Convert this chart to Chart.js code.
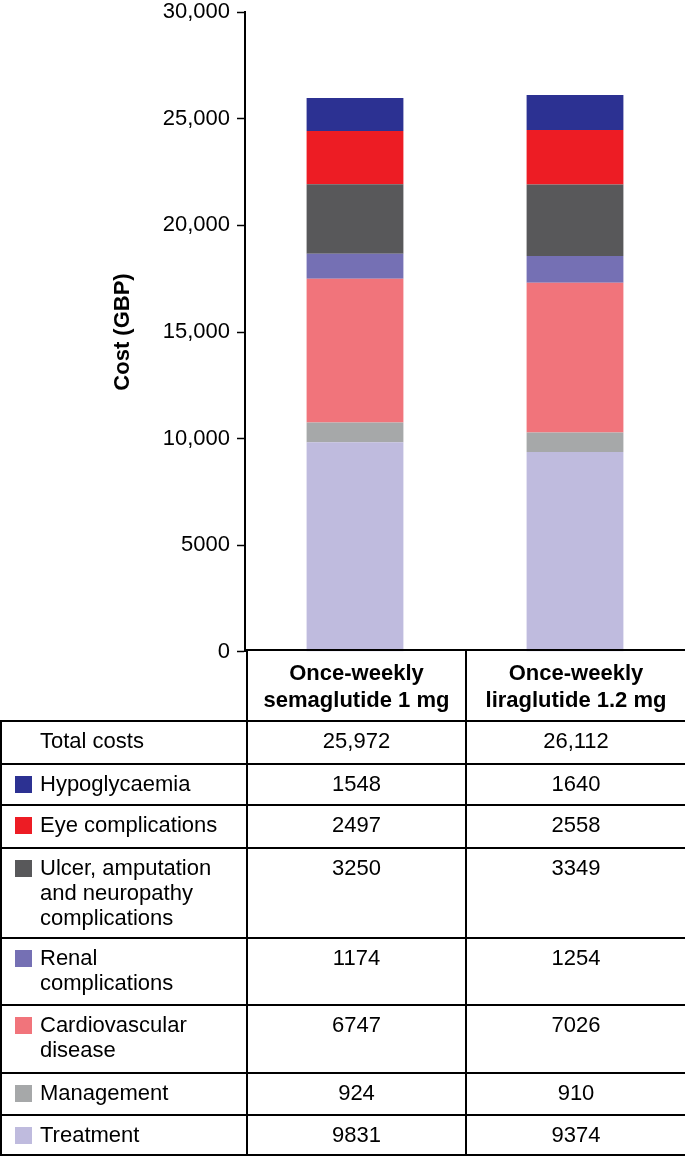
<!DOCTYPE html>
<html lang="en">
<head>
    <meta charset="UTF-8">
    <script src="https://cdn.jsdelivr.net/npm/chart.js"></script>
    <title>Cost breakdown</title>
    <style>
        body { margin: 0; background: #fff; font-family: "Liberation Sans", Arial, sans-serif; color: #000; }
        #wrap { position: relative; width: 685px; height: 1157px; overflow: hidden; }
        #costChart { position: absolute; left: 0; top: -8px; }
        #costTable { position: absolute; left: 0; top: 649px; width: 685px; border-collapse: collapse; table-layout: fixed; font-size: 22px; }
        #costTable td, #costTable th { border: 2px solid #000; padding: 6px 0 0 0; vertical-align: top; line-height: 25px; }
        #costTable th { font-weight: bold; text-align: center; vertical-align: middle; line-height: 27px; padding: 0; }
        #costTable th.blank { border: none; }
        #costTable td.val { text-align: center; }
        .lab { position: relative; padding-left: 38px; }
        .sw { position: absolute; left: 13px; top: 5px; width: 17px; height: 17px; }
    </style>
</head>
<body>
<div id="wrap">
    <canvas id="costChart" width="685" height="680"></canvas>
    <table id="costTable">
        <colgroup><col style="width:246px"><col style="width:219px"><col style="width:220px"></colgroup>
        <tbody id="tbody"></tbody>
    </table>
</div>

<script>
    // columns (two lines each, as in the header)
    const categories = [['Once-weekly', 'semaglutide 1 mg'], ['Once-weekly', 'liraglutide 1.2 mg']];

    // rows, top of table to bottom (top of bar to bottom)
    const seriesNames = [
        ['Hypoglycaemia'],
        ['Eye complications'],
        ['Ulcer, amputation', 'and neuropathy', 'complications'],
        ['Renal', 'complications'],
        ['Cardiovascular', 'disease'],
        ['Management'],
        ['Treatment']
    ];
    const seriesColors = ['#2c3192', '#ed1c24', '#58585a', '#7570b4', '#f1747b', '#a6a8a9', '#bfbbde'];

    const semaglutide = [1548, 2497, 3250, 1174, 6747, 924, 9831];
    const liraglutide = [1640, 2558, 3349, 1254, 7026, 910, 9374];
    const totalCosts = [25972, 26112];
    const totalLabel = 'Total costs';

    const yTicks = [0, 5000, 10000, 15000, 20000, 25000, 30000];

    const fmt = v => v >= 10000 ? v.toLocaleString('en-US') : String(v);

    // stacked bottom-up: treatment first
    const datasets = [];
    for (let i = seriesNames.length - 1; i >= 0; i--) {
        datasets.push({
            label: seriesNames[i].join(' '),
            data: [semaglutide[i], liraglutide[i]],
            backgroundColor: seriesColors[i],
            borderWidth: 0,
            barPercentage: 0.44,
            categoryPercentage: 1.0
        });
    }

    const ctx = document.getElementById('costChart').getContext('2d');
    new Chart(ctx, {
        type: 'bar',
        data: {
            labels: categories,
            datasets: datasets
        },
        options: {
            responsive: false,
            animation: false,
            layout: { padding: { top: 10, bottom: 0, left: 0, right: 0 } },
            plugins: { legend: { display: false }, tooltip: { enabled: false } },
            scales: {
                x: { stacked: true, display: false },
                y: {
                    stacked: true,
                    min: 0,
                    max: 30000,
                    afterFit: s => { s.width = 245; },
                    afterBuildTicks: s => { s.ticks = yTicks.map(v => ({ value: v })); },
                    ticks: {
                        color: '#000',
                        padding: 7,
                        font: { family: '"Liberation Sans", Arial, sans-serif', size: 22 },
                        callback: v => fmt(v)
                    },
                    grid: { drawOnChartArea: false, drawTicks: true, tickLength: 8, color: '#000', tickWidth: 1.5 },
                    border: { display: true, color: '#000', width: 2 },
                    title: {
                        display: true,
                        text: 'Cost (GBP)',
                        color: '#000',
                        padding: { top: 110 },
                        font: { family: '"Liberation Sans", Arial, sans-serif', size: 22, weight: 'bold' }
                    }
                }
            }
        }
    });

    // table under the bars
    const tbody = document.getElementById('tbody');
    let html = '<tr style="height:71px"><th class="blank"></th>';
    categories.forEach(c => { html += '<th>' + c.join('<br>') + '</th>'; });
    html += '</tr>';
    html += '<tr style="height:43px"><td><div class="lab">' + totalLabel + '</div></td>' +
            totalCosts.map(v => '<td class="val">' + fmt(v) + '</td>').join('') + '</tr>';
    const rowHeights = [41, 43, 90, 67, 68, 42, 40];
    seriesNames.forEach((name, i) => {
        html += '<tr style="height:' + rowHeights[i] + 'px"><td><div class="lab"><span class="sw" style="background:' +
                seriesColors[i] + '"></span>' + name.join('<br>') + '</div></td>' +
                '<td class="val">' + semaglutide[i] + '</td><td class="val">' + liraglutide[i] + '</td></tr>';
    });
    tbody.innerHTML = html;
</script>
</body>
</html>
